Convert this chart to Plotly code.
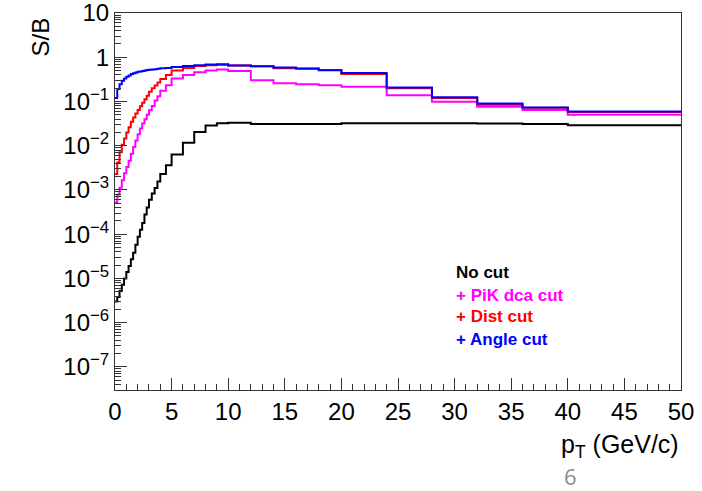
import plotly.graph_objects as go

# bin edges (GeV/c)
edges = [0.0, 0.2, 0.4, 0.6, 0.8, 1.0, 1.2, 1.4, 1.6, 1.8, 2.0, 2.2, 2.4, 2.6, 2.8,
         3.0, 3.25, 3.5, 3.75, 4.0, 4.5, 5, 6, 7, 8, 9, 10, 12, 14, 16, 18, 20,
         24, 28, 32, 36, 40, 50]

no_cut = [3.0e-6, 3.8e-6, 5.2e-6, 7.2e-6, 1.0e-5, 1.4e-5, 1.9e-5, 2.7e-5, 3.8e-5,
          5.8e-5, 8.7e-5, 1.26e-4, 1.8e-4, 2.8e-4, 4.0e-4, 6.0e-4, 8.3e-4, 1.1e-3,
          1.55e-3, 2.3e-3, 3.6e-3, 6.3e-3, 0.0117, 0.0204, 0.0288, 0.0324, 0.0331,
          0.0309, 0.0309, 0.0309, 0.0309, 0.0324, 0.0324, 0.0324, 0.0316, 0.0309, 0.0292]

pik_dca = [5.2e-4, 7.9e-4, 1.12e-3, 1.66e-3, 2.4e-3, 3.3e-3, 4.6e-3, 6.6e-3, 9.3e-3,
           0.0132, 0.0182, 0.0245, 0.0316, 0.0398, 0.0501, 0.0631, 0.0794, 0.105,
           0.132, 0.174, 0.234, 0.331, 0.398, 0.458, 0.501, 0.527, 0.490,
           0.303, 0.259, 0.245, 0.233, 0.214, 0.139, 0.098, 0.076, 0.064, 0.050]

dist = [2.3e-3, 4.2e-3, 7.1e-3, 0.0105, 0.0145, 0.0200, 0.0263, 0.0347, 0.0437,
        0.0537, 0.0646, 0.0776, 0.0933, 0.112, 0.135, 0.166, 0.200, 0.229,
        0.269, 0.324, 0.398, 0.501, 0.575, 0.631, 0.661, 0.681, 0.649,
        0.627, 0.562, 0.550, 0.513, 0.420, 0.200, 0.120, 0.084, 0.072, 0.0575]

angle = [0.120, 0.191, 0.245, 0.295, 0.331, 0.363, 0.389, 0.417, 0.437,
         0.452, 0.468, 0.479, 0.490, 0.501, 0.513, 0.525, 0.531, 0.537,
         0.550, 0.562, 0.575, 0.603, 0.631, 0.661, 0.684, 0.692, 0.649,
         0.627, 0.585, 0.556, 0.509, 0.443, 0.207, 0.125, 0.090, 0.073, 0.059]

series = [("No cut", no_cut, "#000000"),
          ("+ PiK dca cut", pik_dca, "#ff00ff"),
          ("+ Dist cut", dist, "#ff0000"),
          ("+ Angle cut", angle, "#0000ff")]

ytick_vals = [1e-7, 1e-6, 1e-5, 1e-4, 1e-3, 1e-2, 1e-1, 1, 10]
ytick_text = ["10<sup>\u22127</sup>", "10<sup>\u22126</sup>", "10<sup>\u22125</sup>",
              "10<sup>\u22124</sup>", "10<sup>\u22123</sup>", "10<sup>\u22122</sup>",
              "10<sup>\u22121</sup>", "1", "10"]
xtick_vals = [0, 5, 10, 15, 20, 25, 30, 35, 40, 45, 50]

FONT = "Liberation Sans, Arial, Helvetica, sans-serif"

fig = go.Figure()
for name, vals, col in series:
    fig.add_trace(go.Scatter(
        x=edges, y=vals + [vals[-1]], mode="lines", name=name,
        line=dict(color=col, width=2, shape="hv"), showlegend=False))

minor_y = []
for e in range(-8, 1):
    for k in range(2, 10):
        v = k * 10.0 ** e
        if 3e-8 <= v <= 10:
            minor_y.append(v)

fig.update_layout(
    width=702, height=491,
    margin=dict(l=115, r=21, t=13, b=101, autoexpand=False),
    paper_bgcolor="white", plot_bgcolor="white",
    font=dict(family=FONT, size=24, color="black"),
    xaxis=dict(range=[0, 50], tickmode="array", tickvals=xtick_vals, automargin=False,
               ticks="inside", ticklen=12, tickwidth=1, tickcolor="#333",
               showline=True, linecolor="#333", linewidth=1, mirror=True,
               showgrid=False, zeroline=False,
               minor=dict(ticks="inside", ticklen=6, dtick=1, tickcolor="#333", showgrid=False),
               tickfont=dict(size=24)),
    yaxis=dict(type="log", range=[-7.523, 1.0005], tickmode="array", automargin=False,
               tickvals=ytick_vals, ticktext=ytick_text, ticklabeloverflow="allow",
               ticks="inside", ticklen=12, tickwidth=1, tickcolor="#333",
               showline=True, linecolor="#333", linewidth=1, mirror=True,
               showgrid=False, zeroline=False,
               minor=dict(ticks="inside", ticklen=6, tickmode="array", tickvals=minor_y,
                          tickcolor="#333", showgrid=False),
               tickfont=dict(size=24)),
)

def px(xp):
    return (xp - 115) / 566.0

def py(yp):
    return (390 - yp) / 377.0

ann = []
ann.append(dict(text="S/B", x=px(40), y=py(16), xref="paper", yref="paper",
                xanchor="center", yanchor="top", textangle=-90, showarrow=False,
                font=dict(size=24, family=FONT)))
ann.append(dict(text="p<sub>T</sub> (GeV/c)", x=1.0, y=py(446), xref="paper", yref="paper",
                xanchor="right", yanchor="middle", showarrow=False,
                font=dict(size=25, family=FONT)))
ann.append(dict(text="6", x=px(570), y=py(476), xref="paper", yref="paper",
                xanchor="center", yanchor="middle", showarrow=False,
                font=dict(size=22, family="Open Sans, sans-serif", color="#8c8c8c")))
leg_y = [272, 295, 316, 339]
for (name, vals, col), yy in zip(series, leg_y):
    ann.append(dict(text="<b>" + name + "</b>", x=px(454), y=py(yy), xref="paper", yref="paper",
                    xanchor="left", yanchor="middle", showarrow=False,
                    font=dict(size=17, family=FONT, color=col)))
fig.update_layout(annotations=ann)

fig.write_html("out.html", config={"displayModeBar": False},
               post_script="document.body.style.margin='0px';document.body.style.padding='0px';")
